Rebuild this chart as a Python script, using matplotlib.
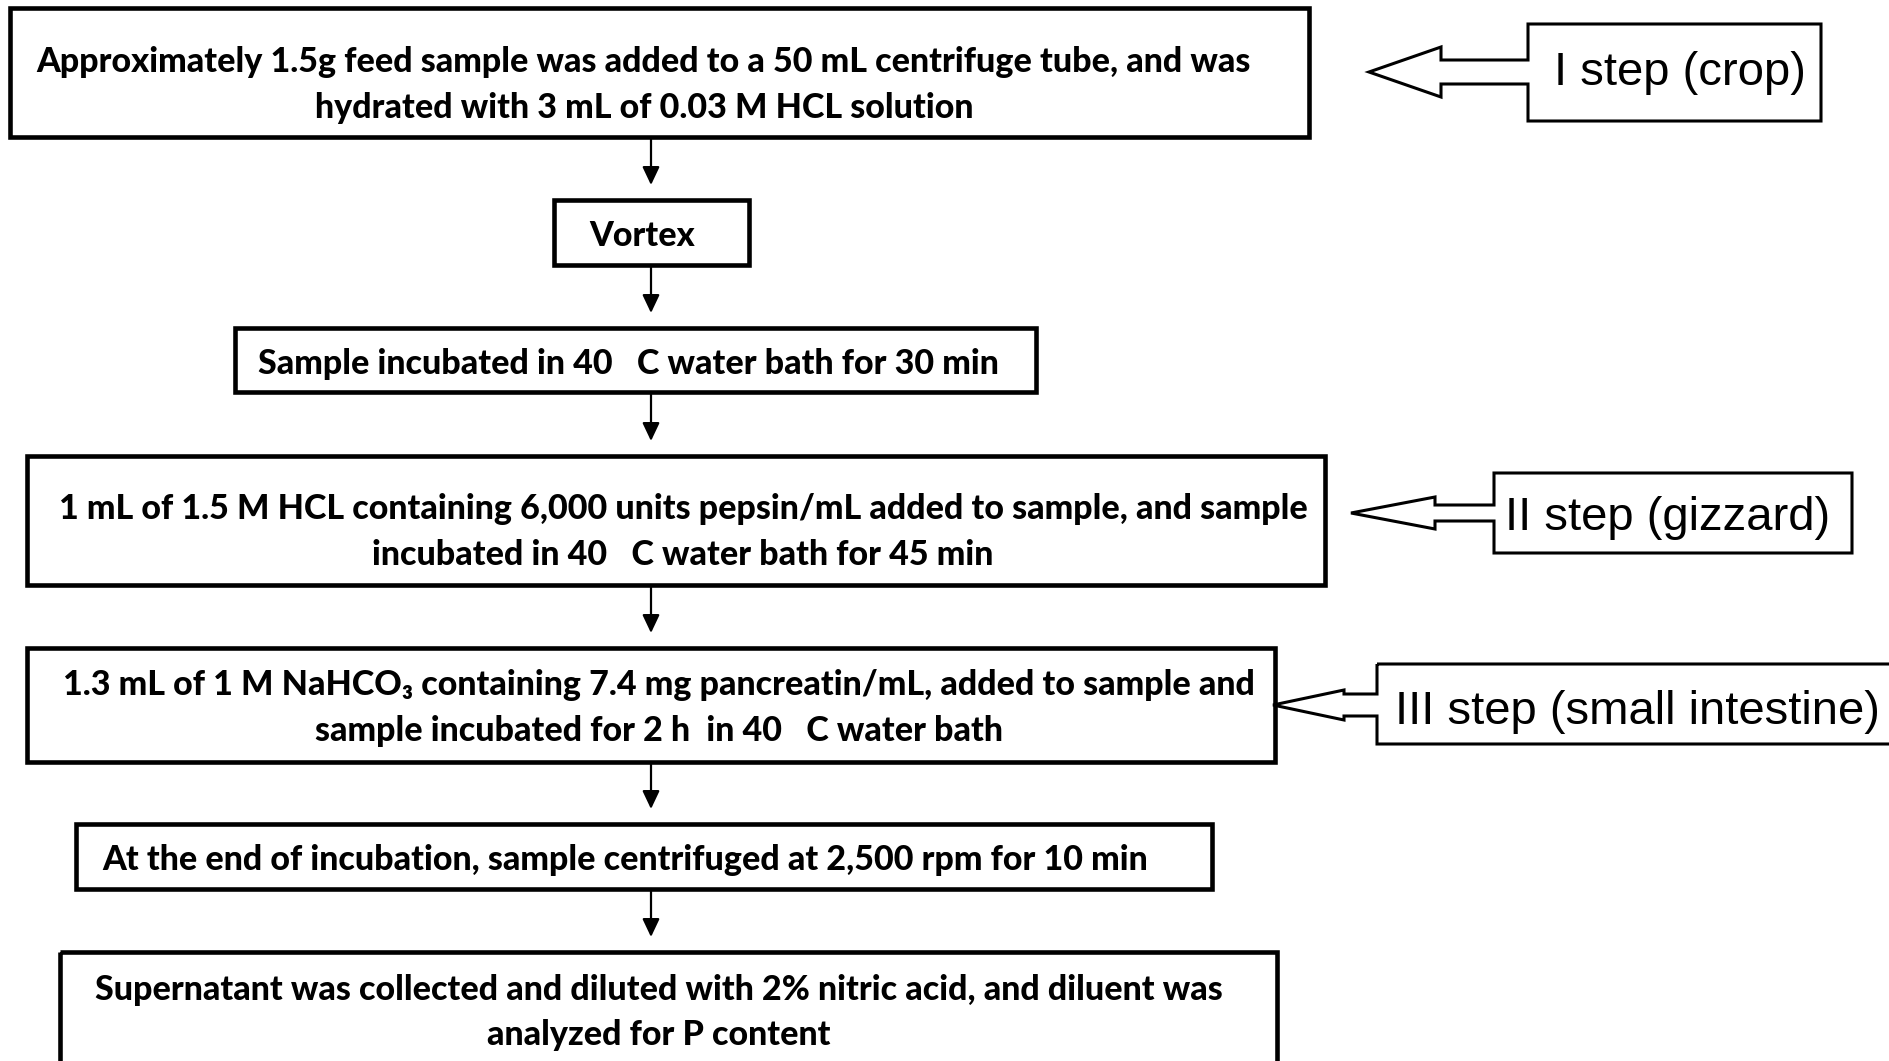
import matplotlib
matplotlib.use("Agg")
import matplotlib.pyplot as plt
from matplotlib.patches import Rectangle, Polygon, FancyArrowPatch

# ---------------------------------------------------------------------
#  Content
# ---------------------------------------------------------------------
step_texts = [
    ["Approximately 1.5g feed sample was added to a 50 mL centrifuge tube, and was",
     "hydrated with 3 mL of 0.03 M HCL solution"],
    ["Vortex"],
    ["Sample incubated in 40   C water bath for 30 min"],
    ["1 mL of 1.5 M HCL containing 6,000 units pepsin/mL added to sample, and sample",
     "incubated in 40   C water bath for 45 min"],
    ["1.3 mL of 1 M NaHCO\u2083 containing 7.4 mg pancreatin/mL, added to sample and",
     "sample incubated for 2 h  in 40   C water bath"],
    ["At the end of incubation, sample centrifuged at 2,500 rpm for 10 min"],
    ["Supernatant was collected and diluted with 2% nitric acid, and diluent was",
     "analyzed for P content"],
]
stage_labels = ["I step (crop)", "II step (gizzard)", "III step (small intestine)"]

# ---------------------------------------------------------------------
#  Layout (pixel coordinates, y down)
# ---------------------------------------------------------------------
W, H = 1890, 1061
box_xy = [(10, 8, 1309, 137), (554, 200, 749, 265), (235, 328, 1036, 392),
          (27, 456, 1325, 585), (27, 648, 1275, 762), (76, 824, 1212, 889),
          (60, 952, 1277, 1100)]
text_cx = [644, 642, 628, 683, 659, 625, 659]
text_base = [[72, 118], [246], [374], [519, 565], [695, 741], [870], [1000, 1045]]
arrow_x = 651

# side labels: box (x0, y0, x1, y1), arrow tip x, head base x,
# head half-height, shaft half-height, arrow centre y, text cx, baseline
side = [
    dict(box=(1528, 24, 1821, 121), tip=1369, base=1441, hh=25, sh=12, cy=72,
         tx=1680, ty=85),
    dict(box=(1494, 473, 1852, 553), tip=1351, base=1435, hh=16, sh=8, cy=513,
         tx=1668, ty=530),
    dict(box=(1377, 664, 1960, 744), tip=1273, base=1344, hh=15, sh=11, cy=705,
         tx=1637, ty=724),
]

fig = plt.figure(figsize=(W / 100, H / 100), dpi=100)
ax = fig.add_axes([0, 0, 1, 1])
ax.set_xlim(0, W)
ax.set_ylim(H, 0)
ax.axis("off")

main_font = ["Lato", "DejaVu Sans"]

for (x0, y0, x1, y1), lines, cx, bases in zip(box_xy, step_texts, text_cx, text_base):
    ax.add_patch(Rectangle((x0, y0), x1 - x0, y1 - y0, fill=False,
                           edgecolor="black", linewidth=3.3, joinstyle="miter"))
    for txt, yb in zip(lines, bases):
        ax.text(cx, yb, txt, ha="center", va="baseline", fontsize=24.5,
                fontweight="black", family=main_font, color="black")

# down arrows between consecutive boxes
for (_, _, _, yb), (_, yt, _, _) in zip(box_xy[:-1], box_xy[1:]):
    ax.add_patch(FancyArrowPatch((arrow_x, yb), (arrow_x, yt - 15),
                                 arrowstyle="-|>,head_length=0.55,head_width=0.26",
                                 mutation_scale=20, linewidth=1.6, color="black",
                                 shrinkA=0, shrinkB=0))

# stage labels with hollow block arrows
for s, label in zip(side, stage_labels):
    x0, y0, x1, y1 = s["box"]
    cy, hh, sh = s["cy"], s["hh"], s["sh"]
    pts = [(x0, y0), (x1, y0), (x1, y1), (x0, y1),
           (x0, cy + sh), (s["base"], cy + sh), (s["base"], cy + hh),
           (s["tip"], cy), (s["base"], cy - hh), (s["base"], cy - sh),
           (x0, cy - sh)]
    ax.add_patch(Polygon(pts, closed=True, fill=False, edgecolor="black",
                         linewidth=2.2, joinstyle="miter"))
    ax.text(s["tx"], s["ty"], label, ha="center", va="baseline", fontsize=34,
            family="Liberation Sans", color="black")

fig.savefig("out.png", dpi=100, facecolor="white")
